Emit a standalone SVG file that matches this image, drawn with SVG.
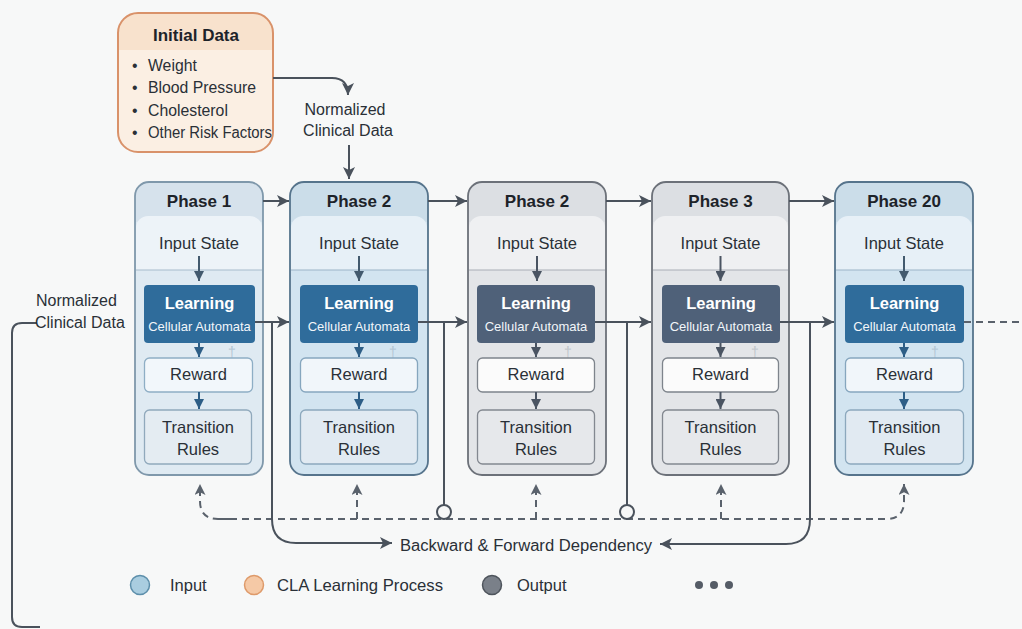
<svg xmlns="http://www.w3.org/2000/svg" width="1022" height="629" viewBox="0 0 1022 629">
  <defs>
    <style>
      text { font-family: "Liberation Sans", Arial, sans-serif; fill: #2a3037; }
      .title { font-size: 17px; font-weight: bold; fill: #1d2329; text-anchor: middle; }
      .lbl { font-size: 16.5px; text-anchor: middle; }
      .learn { font-size: 16.5px; font-weight: bold; fill: #ffffff; text-anchor: middle; }
      .sub { font-size: 13px; fill: #f2f6fa; text-anchor: middle; }
      .note { font-size: 16px; }
      .leg { font-size: 16.5px; }
      .item { font-size: 15.8px; }
      .dagB { font-size: 14px; text-anchor: middle; fill: #b3c6d4; }
      .dagS { font-size: 14px; text-anchor: middle; fill: #c0c5cb; }
      .conn { fill: none; stroke: #4a525c; stroke-width: 2; }
      .dash { fill: none; stroke: #5a626c; stroke-width: 2; stroke-dasharray: 7 5; }
      .inB { fill: none; stroke: #2d5e86; stroke-width: 2; }
      .inS { fill: none; stroke: #4a5462; stroke-width: 2; }
      .inTop { fill: none; stroke: #435a6e; stroke-width: 2; }
    </style>
    <marker id="arrDark" viewBox="0 0 12 12" refX="12" refY="6" markerWidth="12" markerHeight="12" markerUnits="userSpaceOnUse" orient="auto">
      <path d="M0,0 L12,6 L0,12 L3,6 z" fill="#4a525c"/>
    </marker>
    <marker id="arrDash" viewBox="0 0 12 12" refX="12" refY="6" markerWidth="11" markerHeight="11" markerUnits="userSpaceOnUse" orient="auto">
      <path d="M0,0 L12,6 L0,12 L3,6 z" fill="#5a626c"/>
    </marker>
    <marker id="arrBlue" viewBox="0 0 10 10" refX="10" refY="5" markerWidth="10" markerHeight="10" markerUnits="userSpaceOnUse" orient="auto">
      <path d="M0,0 L10,5 L0,10 z" fill="#2d5e86"/>
    </marker>
    <marker id="arrSlate" viewBox="0 0 10 10" refX="10" refY="5" markerWidth="10" markerHeight="10" markerUnits="userSpaceOnUse" orient="auto">
      <path d="M0,0 L10,5 L0,10 z" fill="#4a5462"/>
    </marker>
    <marker id="arrTop" viewBox="0 0 10 10" refX="10" refY="5" markerWidth="10" markerHeight="10" markerUnits="userSpaceOnUse" orient="auto">
      <path d="M0,0 L10,5 L0,10 z" fill="#435a6e"/>
    </marker>
  </defs>

  <rect x="0" y="0" width="1022" height="629" fill="#f7f8f8"/>

  <!-- Initial data card -->
  <g id="initial-data">
    <rect x="118" y="13" width="155" height="139" rx="20" fill="#fbefe3"/>
    <path d="M118,50 V33 a20,20 0 0 1 20,-20 H253 a20,20 0 0 1 20,20 V50 z" fill="#f8e2cd"/>
    <rect x="118" y="13" width="155" height="139" rx="20" fill="none" stroke="#d9926a" stroke-width="2"/>
    <text class="title" x="196" y="41">Initial Data</text>
    <text class="item" x="132" y="70.5">•</text>
    <text class="item" x="148" y="70.5">Weight</text>
    <text class="item" x="132" y="92.5">•</text>
    <text class="item" x="148" y="92.5">Blood Pressure</text>
    <text class="item" x="132" y="115.5">•</text>
    <text class="item" x="148" y="115.5">Cholesterol</text>
    <text class="item" x="132" y="137.5">•</text>
    <text class="item" x="148" y="137.5" textLength="124" lengthAdjust="spacingAndGlyphs">Other Risk Factors</text>
  </g>

  <!-- Phase 1 -->
  <g id="phase-1">
    <rect x="135" y="182" width="128" height="293" rx="14" fill="#dfeaf2"/>
    <path d="M135,222 V196 a14,14 0 0 1 14,-14 H249 a14,14 0 0 1 14,14 V222 z" fill="#d6e2ec"/>
    <path d="M136,270 V228 a12,12 0 0 1 12,-12 H250 a12,12 0 0 1 12,12 V270 z" fill="#edf3f8"/>
    <line x1="136" y1="270" x2="262" y2="270" stroke="#a7bccb" stroke-width="1.2"/>
    <rect x="135" y="182" width="128" height="293" rx="14" fill="none" stroke="#7f98ab" stroke-width="1.8"/>
    <text class="title" x="199" y="207">Phase 1</text>
    <text class="lbl" x="199" y="249">Input State</text>
    <line class="inTop" x1="199" y1="256" x2="199" y2="281" marker-end="url(#arrTop)"/>
    <rect x="144" y="285" width="111" height="58" rx="4" fill="#2f6c9b"/>
    <text class="learn" x="199.5" y="309">Learning</text>
    <text class="sub" x="199.5" y="331">Cellular Automata</text>
    <line class="inB" x1="199" y1="343" x2="199" y2="357" marker-end="url(#arrBlue)"/>
    <text class="dagB" x="232" y="357">†</text>
    <rect x="144.5" y="358" width="108" height="34" rx="5" fill="#f2f7fb" stroke="#8eaec5" stroke-width="1.3"/>
    <text class="lbl" x="198.5" y="380">Reward</text>
    <line class="inB" x1="199" y1="392" x2="199" y2="409" marker-end="url(#arrBlue)"/>
    <rect x="144.5" y="410" width="107" height="54" rx="5" fill="#e4ecf2" stroke="#90a9bc" stroke-width="1.3"/>
    <text class="lbl" x="198" y="433">Transition</text>
    <text class="lbl" x="198" y="455">Rules</text>
  </g>

  <!-- Phase 2 -->
  <g id="phase-2">
    <rect x="290" y="182" width="138" height="293" rx="14" fill="#d2e4f0"/>
    <path d="M290,222 V196 a14,14 0 0 1 14,-14 H414 a14,14 0 0 1 14,14 V222 z" fill="#cbdde9"/>
    <path d="M291,270 V228 a12,12 0 0 1 12,-12 H415 a12,12 0 0 1 12,12 V270 z" fill="#e7f0f7"/>
    <line x1="291" y1="270" x2="427" y2="270" stroke="#9bb4c7" stroke-width="1.2"/>
    <rect x="290" y="182" width="138" height="293" rx="14" fill="none" stroke="#56748c" stroke-width="1.8"/>
    <text class="title" x="359" y="207">Phase 2</text>
    <text class="lbl" x="359" y="249">Input State</text>
    <line class="inTop" x1="359" y1="256" x2="359" y2="281" marker-end="url(#arrTop)"/>
    <rect x="300" y="285" width="118" height="58" rx="4" fill="#2f6c9b"/>
    <text class="learn" x="359" y="309">Learning</text>
    <text class="sub" x="359" y="331">Cellular Automata</text>
    <line class="inB" x1="359" y1="343" x2="359" y2="357" marker-end="url(#arrBlue)"/>
    <text class="dagB" x="393" y="357">†</text>
    <rect x="300.5" y="358" width="117" height="34" rx="5" fill="#f1f6fa" stroke="#86a6be" stroke-width="1.3"/>
    <text class="lbl" x="359" y="380">Reward</text>
    <line class="inB" x1="359" y1="392" x2="359" y2="409" marker-end="url(#arrBlue)"/>
    <rect x="300.5" y="410" width="117" height="54" rx="5" fill="#e1eaf2" stroke="#8ca8bd" stroke-width="1.3"/>
    <text class="lbl" x="359" y="433">Transition</text>
    <text class="lbl" x="359" y="455">Rules</text>
  </g>

  <!-- Phase 2 (second column) -->
  <g id="phase-2b">
    <rect x="468" y="182" width="138" height="293" rx="14" fill="#e3e5e8"/>
    <path d="M468,222 V196 a14,14 0 0 1 14,-14 H592 a14,14 0 0 1 14,14 V222 z" fill="#dcdfe3"/>
    <path d="M469,270 V228 a12,12 0 0 1 12,-12 H593 a12,12 0 0 1 12,12 V270 z" fill="#eff0f2"/>
    <line x1="469" y1="270" x2="605" y2="270" stroke="#a9aeb5" stroke-width="1.2"/>
    <rect x="468" y="182" width="138" height="293" rx="14" fill="none" stroke="#6c7179" stroke-width="1.8"/>
    <text class="title" x="537" y="207">Phase 2</text>
    <text class="lbl" x="537" y="249">Input State</text>
    <line class="inS" x1="537" y1="256" x2="537" y2="281" marker-end="url(#arrSlate)"/>
    <rect x="477" y="285" width="118" height="58" rx="4" fill="#4f6179"/>
    <text class="learn" x="536" y="309">Learning</text>
    <text class="sub" x="536" y="331">Cellular Automata</text>
    <line class="inS" x1="536" y1="343" x2="536" y2="357" marker-end="url(#arrSlate)"/>
    <text class="dagS" x="568" y="357">†</text>
    <rect x="477.5" y="358" width="117" height="34" rx="5" fill="#fbfbfb" stroke="#7e848c" stroke-width="1.3"/>
    <text class="lbl" x="536" y="380">Reward</text>
    <line class="inS" x1="536" y1="392" x2="536" y2="409" marker-end="url(#arrSlate)"/>
    <rect x="477.5" y="410" width="117" height="54" rx="5" fill="#e6e8eb" stroke="#838890" stroke-width="1.3"/>
    <text class="lbl" x="536" y="433">Transition</text>
    <text class="lbl" x="536" y="455">Rules</text>
  </g>

  <!-- Phase 3 -->
  <g id="phase-3">
    <rect x="652" y="182" width="137" height="293" rx="14" fill="#e3e5e8"/>
    <path d="M652,222 V196 a14,14 0 0 1 14,-14 H775 a14,14 0 0 1 14,14 V222 z" fill="#dcdfe3"/>
    <path d="M653,270 V228 a12,12 0 0 1 12,-12 H776 a12,12 0 0 1 12,12 V270 z" fill="#eff0f2"/>
    <line x1="653" y1="270" x2="788" y2="270" stroke="#a9aeb5" stroke-width="1.2"/>
    <rect x="652" y="182" width="137" height="293" rx="14" fill="none" stroke="#6c7179" stroke-width="1.8"/>
    <text class="title" x="720.5" y="207">Phase 3</text>
    <text class="lbl" x="720.5" y="249">Input State</text>
    <line class="inS" x1="720.5" y1="256" x2="720.5" y2="281" marker-end="url(#arrSlate)"/>
    <rect x="662" y="285" width="118" height="58" rx="4" fill="#4f6179"/>
    <text class="learn" x="721" y="309">Learning</text>
    <text class="sub" x="721" y="331">Cellular Automata</text>
    <line class="inS" x1="720.5" y1="343" x2="720.5" y2="357" marker-end="url(#arrSlate)"/>
    <text class="dagS" x="755" y="357">†</text>
    <rect x="662.5" y="358" width="116" height="34" rx="5" fill="#fbfbfb" stroke="#7e848c" stroke-width="1.3"/>
    <text class="lbl" x="720.5" y="380">Reward</text>
    <line class="inS" x1="720.5" y1="392" x2="720.5" y2="409" marker-end="url(#arrSlate)"/>
    <rect x="662.5" y="410" width="116" height="54" rx="5" fill="#e6e8eb" stroke="#838890" stroke-width="1.3"/>
    <text class="lbl" x="720.5" y="433">Transition</text>
    <text class="lbl" x="720.5" y="455">Rules</text>
  </g>

  <!-- Phase 20 -->
  <g id="phase-20">
    <rect x="835" y="182" width="138" height="293" rx="14" fill="#d2e4f0"/>
    <path d="M835,222 V196 a14,14 0 0 1 14,-14 H959 a14,14 0 0 1 14,14 V222 z" fill="#cbdde9"/>
    <path d="M836,270 V228 a12,12 0 0 1 12,-12 H960 a12,12 0 0 1 12,12 V270 z" fill="#e7f0f7"/>
    <line x1="836" y1="270" x2="972" y2="270" stroke="#9bb4c7" stroke-width="1.2"/>
    <rect x="835" y="182" width="138" height="293" rx="14" fill="none" stroke="#56748c" stroke-width="1.8"/>
    <text class="title" x="904" y="207">Phase 20</text>
    <text class="lbl" x="904" y="249">Input State</text>
    <line class="inTop" x1="904" y1="256" x2="904" y2="281" marker-end="url(#arrTop)"/>
    <rect x="845" y="285" width="119" height="58" rx="4" fill="#2f6c9b"/>
    <text class="learn" x="904.5" y="309">Learning</text>
    <text class="sub" x="904.5" y="331">Cellular Automata</text>
    <line class="inB" x1="904" y1="343" x2="904" y2="357" marker-end="url(#arrBlue)"/>
    <text class="dagB" x="935" y="357">†</text>
    <rect x="845.5" y="358" width="118" height="34" rx="5" fill="#f1f6fa" stroke="#86a6be" stroke-width="1.3"/>
    <text class="lbl" x="904.5" y="380">Reward</text>
    <line class="inB" x1="904" y1="392" x2="904" y2="409" marker-end="url(#arrBlue)"/>
    <rect x="845.5" y="410" width="118" height="54" rx="5" fill="#e1eaf2" stroke="#8ca8bd" stroke-width="1.3"/>
    <text class="lbl" x="904.5" y="433">Transition</text>
    <text class="lbl" x="904.5" y="455">Rules</text>
  </g>

  <!-- Connectors -->
  <g id="connectors">
    <!-- initial data to normalization -->
    <path class="conn" d="M273,78 H332 Q348,78 348,95" marker-end="url(#arrDark)"/>
    <line class="conn" x1="349" y1="145" x2="349" y2="179" marker-end="url(#arrDark)"/>

    <!-- phase header chain -->
    <line class="conn" x1="263" y1="201" x2="289" y2="201" marker-end="url(#arrDark)"/>
    <line class="conn" x1="428" y1="201" x2="467" y2="201" marker-end="url(#arrDark)"/>
    <line class="conn" x1="606" y1="201" x2="651" y2="201" marker-end="url(#arrDark)"/>
    <line class="conn" x1="789" y1="201" x2="834" y2="201" marker-end="url(#arrDark)"/>

    <!-- learning chain -->
    <line class="conn" x1="255" y1="322" x2="289" y2="322" marker-end="url(#arrDark)"/>
    <line class="conn" x1="418" y1="322" x2="467" y2="322" marker-end="url(#arrDark)"/>
    <line class="conn" x1="595" y1="322" x2="651" y2="322" marker-end="url(#arrDark)"/>
    <line class="conn" x1="780" y1="322" x2="834" y2="322" marker-end="url(#arrDark)"/>
    <line class="dash" x1="964" y1="322" x2="1022" y2="322"/>

    <!-- side input of normalized data -->
    <path class="conn" d="M37,323 H22 Q12,323 12,333 V617 Q12,627 22,627 H40"/>

    <!-- dependency bus -->
    <path class="dash" d="M232,519 H218 Q200,519 200,501 V484" marker-end="url(#arrDash)"/>
    <path class="dash" d="M218,519 H886 Q904,519 904,501 V484" marker-end="url(#arrDash)"/>
    <line class="dash" x1="357" y1="519" x2="357" y2="484" marker-end="url(#arrDash)"/>
    <line class="dash" x1="536" y1="519" x2="536" y2="484" marker-end="url(#arrDash)"/>
    <line class="dash" x1="721" y1="519" x2="721" y2="484" marker-end="url(#arrDash)"/>

    <path class="conn" d="M272,322 V519 Q272,543 296,543 H392" marker-end="url(#arrDark)"/>
    <path class="conn" d="M810,322 V519 Q810,544 786,544 H660" marker-end="url(#arrDark)"/>
    <line class="conn" x1="444" y1="322" x2="444" y2="505"/>
    <line class="conn" x1="627" y1="322" x2="627" y2="505"/>
    <circle cx="444" cy="512" r="7" fill="#f7f8f8" stroke="#4a525c" stroke-width="2"/>
    <circle cx="627" cy="512" r="7" fill="#f7f8f8" stroke="#4a525c" stroke-width="2"/>
  </g>

  <!-- Connector labels -->
  <g id="labels">
    <text class="note" x="345" y="115" text-anchor="middle">Normalized</text>
    <text class="note" x="348" y="136" text-anchor="middle">Clinical Data</text>
    <text class="note" x="36" y="306">Normalized</text>
    <text class="note" x="35" y="328">Clinical Data</text>
    <text class="note" x="400" y="551" textLength="252" lengthAdjust="spacingAndGlyphs">Backward &amp; Forward Dependency</text>
  </g>

  <!-- Legend -->
  <g id="legend">
    <circle cx="140" cy="585" r="9.5" fill="#a9cde0" stroke="#5d8fab" stroke-width="1.5"/>
    <text class="leg" x="170" y="591">Input</text>
    <circle cx="254" cy="585" r="9.5" fill="#f5c9a6" stroke="#de9a6a" stroke-width="1.5"/>
    <text class="leg" x="277" y="591" textLength="166" lengthAdjust="spacingAndGlyphs">CLA Learning Process</text>
    <circle cx="492" cy="585" r="9.5" fill="#7a8089" stroke="#4e545c" stroke-width="1.5"/>
    <text class="leg" x="517" y="591">Output</text>
    <circle cx="699" cy="585" r="4" fill="#555c66"/>
    <circle cx="714" cy="585" r="4" fill="#555c66"/>
    <circle cx="729" cy="585" r="4" fill="#555c66"/>
  </g>
</svg>
